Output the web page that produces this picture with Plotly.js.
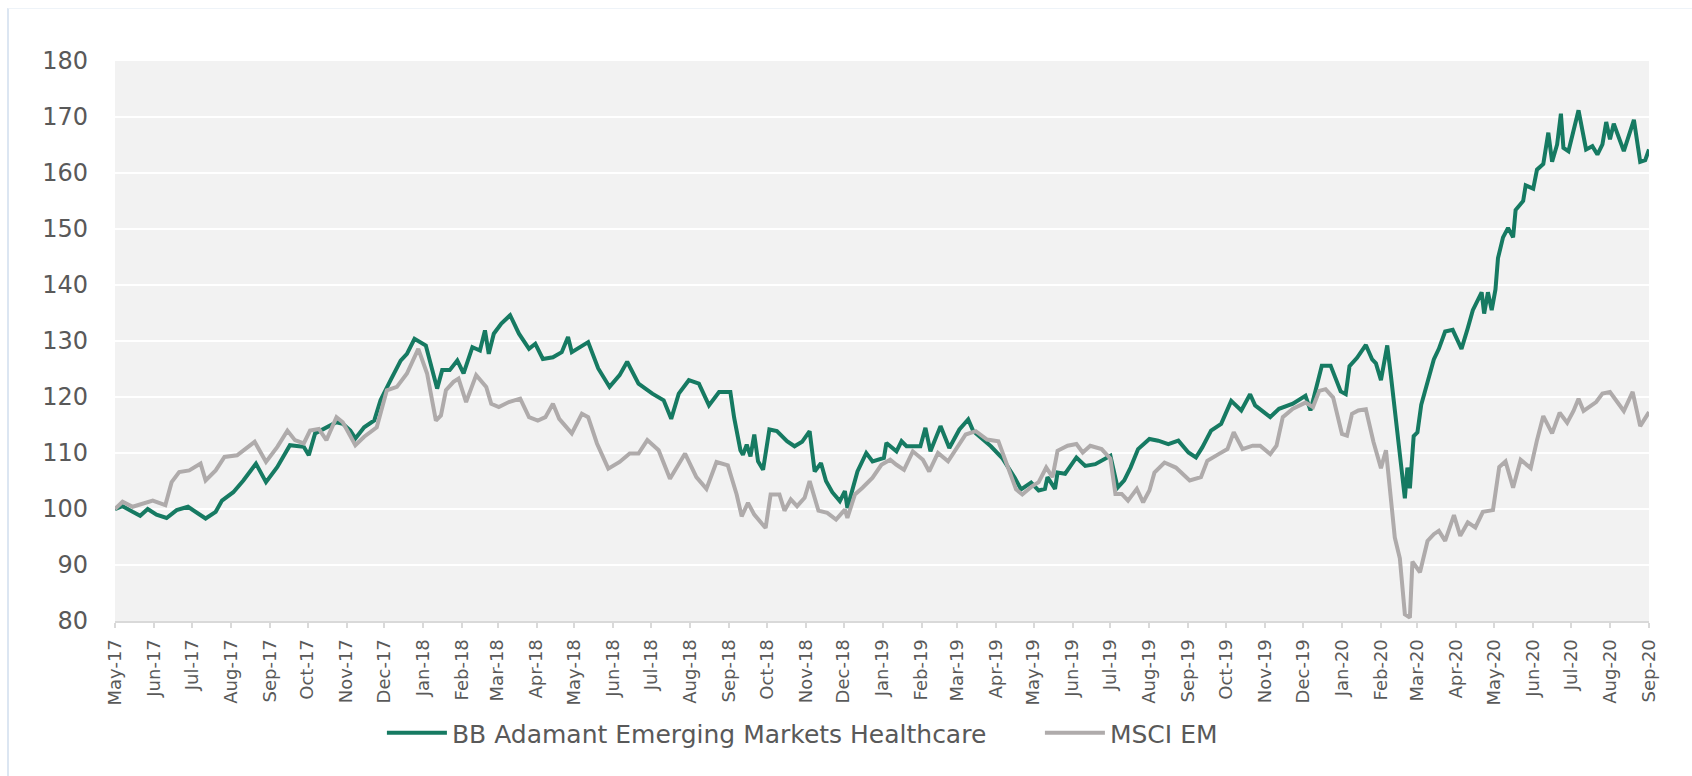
<!DOCTYPE html>
<html>
<head>
<meta charset="utf-8">
<script src="https://cdn.plot.ly/plotly-3.0.1.min.js"></script>
<style>
  html, body { margin: 0; padding: 0; background: #ffffff; }
  #frame { position: absolute; left: 7px; top: 8px; width: 1720px; height: 800px;
           border-left: 2px solid #dce6f2; border-top: 1px solid #eef3f8; box-sizing: border-box; }
  #chart { position: absolute; left: 0; top: 0; width: 1692px; height: 776px; }
</style>
</head>
<body>
<div id="frame"></div>
<div id="chart"></div>
<script>
const seriesNames = ["BB Adamant Emerging Markets Healthcare", "MSCI EM"];

const bbDates = [
"2017-05-01","2017-05-07","2017-05-15","2017-05-21","2017-05-27","2017-06-03","2017-06-11","2017-06-19","2017-06-28",
"2017-07-04","2017-07-12","2017-07-20","2017-07-25","2017-08-03","2017-08-11","2017-08-21","2017-08-29","2017-09-07",
"2017-09-17","2017-09-28","2017-10-02","2017-10-07","2017-10-16","2017-10-24","2017-10-29","2017-11-04","2017-11-08",
"2017-11-15","2017-11-23","2017-11-28","2017-12-06","2017-12-14","2017-12-19","2017-12-25","2018-01-03","2018-01-08",
"2018-01-12","2018-01-16","2018-01-22","2018-01-28","2018-02-02","2018-02-09","2018-02-15","2018-02-19","2018-02-22",
"2018-02-26","2018-03-04","2018-03-11","2018-03-18","2018-03-26","2018-03-31","2018-04-06","2018-04-14","2018-04-21",
"2018-04-26","2018-04-29","2018-05-07","2018-05-12","2018-05-20","2018-05-29","2018-06-06","2018-06-12","2018-06-21",
"2018-07-02","2018-07-11","2018-07-17","2018-07-23","2018-07-31","2018-08-08","2018-08-16","2018-08-24","2018-09-02",
"2018-09-05","2018-09-10","2018-09-12","2018-09-15","2018-09-18","2018-09-21","2018-09-24","2018-09-28","2018-10-03",
"2018-10-09","2018-10-17","2018-10-23","2018-10-29","2018-11-04","2018-11-08","2018-11-13","2018-11-17","2018-11-22",
"2018-11-28","2018-12-02","2018-12-04","2018-12-12","2018-12-19","2018-12-24","2019-01-02","2019-01-04","2019-01-12",
"2019-01-16","2019-01-20","2019-01-31","2019-02-04","2019-02-08","2019-02-16","2019-02-23","2019-03-03","2019-03-10",
"2019-03-14","2019-03-22","2019-03-28","2019-04-06","2019-04-16","2019-04-21","2019-04-29","2019-05-05","2019-05-10",
"2019-05-12","2019-05-18","2019-05-20","2019-05-26","2019-06-04","2019-06-11","2019-06-19","2019-06-28","2019-07-01",
"2019-07-06","2019-07-07","2019-07-12","2019-07-17","2019-07-23","2019-08-01","2019-08-08","2019-08-16","2019-08-24",
"2019-09-01","2019-09-07","2019-09-12","2019-09-19","2019-09-27","2019-10-05","2019-10-13","2019-10-20","2019-10-24",
"2019-11-05","2019-11-12","2019-11-23","2019-12-03","2019-12-07","2019-12-16","2019-12-23","2019-12-31","2020-01-04",
"2020-01-07","2020-01-13","2020-01-20","2020-01-25","2020-01-28","2020-02-01","2020-02-06","2020-02-09","2020-02-13",
"2020-02-17","2020-02-20","2020-02-22","2020-02-24","2020-02-27","2020-03-01","2020-03-04","2020-03-09","2020-03-14",
"2020-03-18","2020-03-23","2020-03-29","2020-04-05","2020-04-10","2020-04-14","2020-04-21","2020-04-23","2020-04-26",
"2020-04-29","2020-05-02","2020-05-04","2020-05-08","2020-05-12","2020-05-16","2020-05-18","2020-05-24","2020-05-26",
"2020-06-01","2020-06-04","2020-06-09","2020-06-13","2020-06-16","2020-06-20","2020-06-23","2020-06-25","2020-06-29",
"2020-07-03","2020-07-07","2020-07-13","2020-07-18","2020-07-22","2020-07-26","2020-07-29","2020-08-01","2020-08-04",
"2020-08-12","2020-08-20","2020-08-25","2020-08-29","2020-09-01"
];
const bbValues = [
100,100.5,99.5,98.8,100,99,98.4,99.8,100.4,
99.5,98.3,99.5,101.5,103,105.1,108.1,104.8,107.5,
111.4,111.1,109.6,113.5,114.6,115.5,115.2,114,112.6,
114.6,115.8,119.4,123,126.5,127.7,130.4,129.2,124.8,
121.5,124.8,124.8,126.5,124.2,128.9,128.3,131.9,127.7,
131.3,133.1,134.6,131.3,128.6,129.5,126.8,127.1,128,
130.7,128,129.2,129.8,125.1,121.8,123.9,126.3,122.4,
120.6,119.4,116.1,120.6,123,122.4,118.5,120.9,120.9,
116.3,110.5,109.7,111.5,109.4,113.3,108.5,107,114.2,
113.9,112.1,111.2,112,113.9,106.7,108.2,105,103,
101.4,103.2,100.2,106.7,110,108.5,109.1,111.8,110.3,
112.1,111.2,111.2,114.5,110.3,114.8,110.9,114.2,116,
113.9,112.4,111.2,109.1,105.6,103.5,104.7,103.3,103.6,
105.7,103.6,106.5,106.3,109.2,107.7,108,109.2,109.5,
104.5,103.9,105.1,107.4,110.7,112.5,112.2,111.6,112.2,
110.1,109.2,111,114,115.2,119.3,117.6,120.5,118.5,
116.4,117.9,118.8,120.2,117.6,125.6,125.6,121,120.5,
125.5,127,129.3,126.7,126,123,129.2,123.6,115.5,
108,101.9,107.4,103.7,113,113.7,118.6,122.4,126.7,
128.6,131.7,132,128.6,132.3,135.5,138.7,134.9,138.7,
135.5,139.2,144.8,148.5,150.2,148.5,153.4,155,157.8,
157.2,160.6,161.6,167.2,162,165.1,170.6,164.5,163.9,
167.8,171.2,164.2,164.8,163.3,165.1,169.1,166,168.8,
163.9,169.5,162,162.3,164.2
];

const msciDates = [
"2017-05-01","2017-05-07","2017-05-15","2017-05-23","2017-05-31","2017-06-10","2017-06-15","2017-06-21","2017-06-29",
"2017-07-08","2017-07-12","2017-07-20","2017-07-27","2017-08-06","2017-08-14","2017-08-20","2017-08-29","2017-09-07",
"2017-09-15","2017-09-21","2017-09-28","2017-10-03","2017-10-10","2017-10-16","2017-10-24","2017-10-29","2017-11-08",
"2017-11-15","2017-11-25","2017-12-03","2017-12-11","2017-12-19","2017-12-28","2018-01-04","2018-01-11","2018-01-15",
"2018-01-19","2018-01-25","2018-01-29","2018-02-04","2018-02-08","2018-02-12","2018-02-20","2018-02-24","2018-03-02",
"2018-03-10","2018-03-19","2018-03-26","2018-04-02","2018-04-08","2018-04-14","2018-04-19","2018-04-29","2018-05-07",
"2018-05-12","2018-05-19","2018-05-28","2018-06-06","2018-06-14","2018-06-21","2018-06-28","2018-07-07","2018-07-16",
"2018-07-28","2018-08-06","2018-08-14","2018-08-22","2018-08-31","2018-09-07","2018-09-11","2018-09-16","2018-09-21",
"2018-09-30","2018-10-04","2018-10-11","2018-10-15","2018-10-20","2018-10-25","2018-10-31","2018-11-04","2018-11-11",
"2018-11-18","2018-11-25","2018-12-02","2018-12-04","2018-12-10","2018-12-16","2018-12-24","2018-12-31","2019-01-07",
"2019-01-12","2019-01-18","2019-01-25","2019-02-02","2019-02-07","2019-02-14","2019-02-22","2019-03-02","2019-03-08",
"2019-03-16","2019-03-25","2019-04-03","2019-04-11","2019-04-17","2019-04-22","2019-04-30","2019-05-05","2019-05-11",
"2019-05-16","2019-05-20","2019-05-28","2019-06-04","2019-06-09","2019-06-15","2019-06-24","2019-07-01","2019-07-05",
"2019-07-10","2019-07-15","2019-07-22","2019-07-27","2019-08-01","2019-08-05","2019-08-13","2019-08-22","2019-09-02",
"2019-09-11","2019-09-16","2019-09-25","2019-10-02","2019-10-07","2019-10-14","2019-10-22","2019-10-28","2019-11-05",
"2019-11-10","2019-11-15","2019-11-23","2019-12-03","2019-12-09","2019-12-14","2019-12-19","2019-12-25","2020-01-01",
"2020-01-05","2020-01-09","2020-01-14","2020-01-20","2020-01-26","2020-02-01","2020-02-05","2020-02-09","2020-02-12",
"2020-02-16","2020-02-20","2020-02-24","2020-02-26","2020-03-03","2020-03-09","2020-03-14","2020-03-18","2020-03-23",
"2020-03-30","2020-04-04","2020-04-10","2020-04-16","2020-04-22","2020-04-30","2020-05-05","2020-05-10","2020-05-16",
"2020-05-22","2020-05-30","2020-06-04","2020-06-09","2020-06-16","2020-06-22","2020-06-28","2020-07-03","2020-07-07",
"2020-07-11","2020-07-21","2020-07-26","2020-08-01","2020-08-07","2020-08-12","2020-08-19","2020-08-25","2020-09-01"
];
const msciValues = [
100,101.3,100.4,101,101.5,100.7,104.8,106.6,106.9,
108.1,105.1,106.9,109.3,109.6,111.1,112,108.4,111.1,
114,112.3,111.7,114,114.3,112.3,116.4,115.5,111.4,
112.9,114.6,121.2,121.8,124.2,128.6,124.2,115.8,116.7,
121.2,122.7,123.3,119.1,121.5,123.9,121.8,118.8,118.2,
119.1,119.7,116.4,115.8,116.4,118.8,116.1,113.5,117,
116.4,111.7,107.2,108.4,109.9,109.9,112.3,110.5,105.4,
109.9,105.7,103.6,108.4,107.8,102.6,98.7,101.1,99,
96.6,102.6,102.6,99.7,101.7,100.5,102,105,99.7,
99.3,98.1,99.9,98.4,102.6,103.8,105.6,107.9,108.8,
107.9,107,110.3,108.8,106.7,110,108.5,111.2,113.3,
113.9,112.4,112.1,107.3,103.5,102.6,104.1,104.8,107.4,
105.7,110.4,111.3,111.6,110.1,111.3,110.7,109,102.7,
102.7,101.5,103.6,101.2,103.3,106.5,108.3,107.4,105.1,
105.7,108.6,109.8,110.7,113.7,110.7,111.3,111.3,109.8,
111.3,116.4,117.9,119,118.2,121.1,121.4,119.9,113.4,
113.1,117,117.6,117.8,112,107.3,110.5,101.1,94.9,
91.2,81.2,80.6,90.6,88.7,94.3,95.5,96.1,94.3,
98.9,95.2,97.6,96.7,99.5,99.8,107.5,108.5,103.8,
108.8,107.3,112.3,116.6,113.5,117.2,115.4,117.5,119.7,
117.5,119.1,120.6,120.9,119.1,117.5,120.9,114.8,117.3
];

const xRange = ["2017-05-01", "2020-09-01"];
const yTicks = [80, 90, 100, 110, 120, 130, 140, 150, 160, 170, 180];

const traces = [
  { x: bbDates, y: bbValues, name: seriesNames[0], type: "scatter", mode: "lines",
    line: { color: "#167a62", width: 4 } },
  { x: msciDates, y: msciValues, name: seriesNames[1], type: "scatter", mode: "lines",
    line: { color: "#afabab", width: 4 } }
];

const layout = {
  width: 1692, height: 776,
  paper_bgcolor: "rgba(0,0,0,0)",
  plot_bgcolor: "#f2f2f2",
  margin: { l: 115, r: 43, t: 61, b: 155, autoexpand: false },
  font: { family: "DejaVu Sans", color: "#595959" },
  showlegend: true,
  legend: {
    orientation: "h", x: 0.174, xanchor: "left", y: -0.2, yanchor: "middle",
    font: { size: 25, color: "#595959", family: "DejaVu Sans" },
    bgcolor: "rgba(0,0,0,0)", traceorder: "normal",
    itemwidth: 60,
    entrywidth: 583, entrywidthmode: "pixels"
  },
  xaxis: {
    type: "date", range: xRange,
    tick0: "2017-05-01", dtick: "M1", tickformat: "%b-%y", tickangle: -90,
    ticks: "outside", ticklen: 5, tickwidth: 2, tickcolor: "#d9d9d9",
    showline: true, linecolor: "#d9d9d9", linewidth: 2,
    showgrid: false, zeroline: false,
    tickfont: { size: 18, color: "#595959", family: "DejaVu Sans" },
    ticklabelstandoff: 4
  },
  yaxis: {
    range: [80, 180], tickvals: yTicks,
    showgrid: true, gridcolor: "#ffffff", gridwidth: 2,
    zeroline: false, showline: false, ticks: "",
    tickfont: { size: 24, color: "#595959", family: "DejaVu Sans" },
    ticklabelstandoff: 26
  }
};

Plotly.newPlot("chart", traces, layout, { displayModeBar: false, staticPlot: true });
</script>
</body>
</html>
